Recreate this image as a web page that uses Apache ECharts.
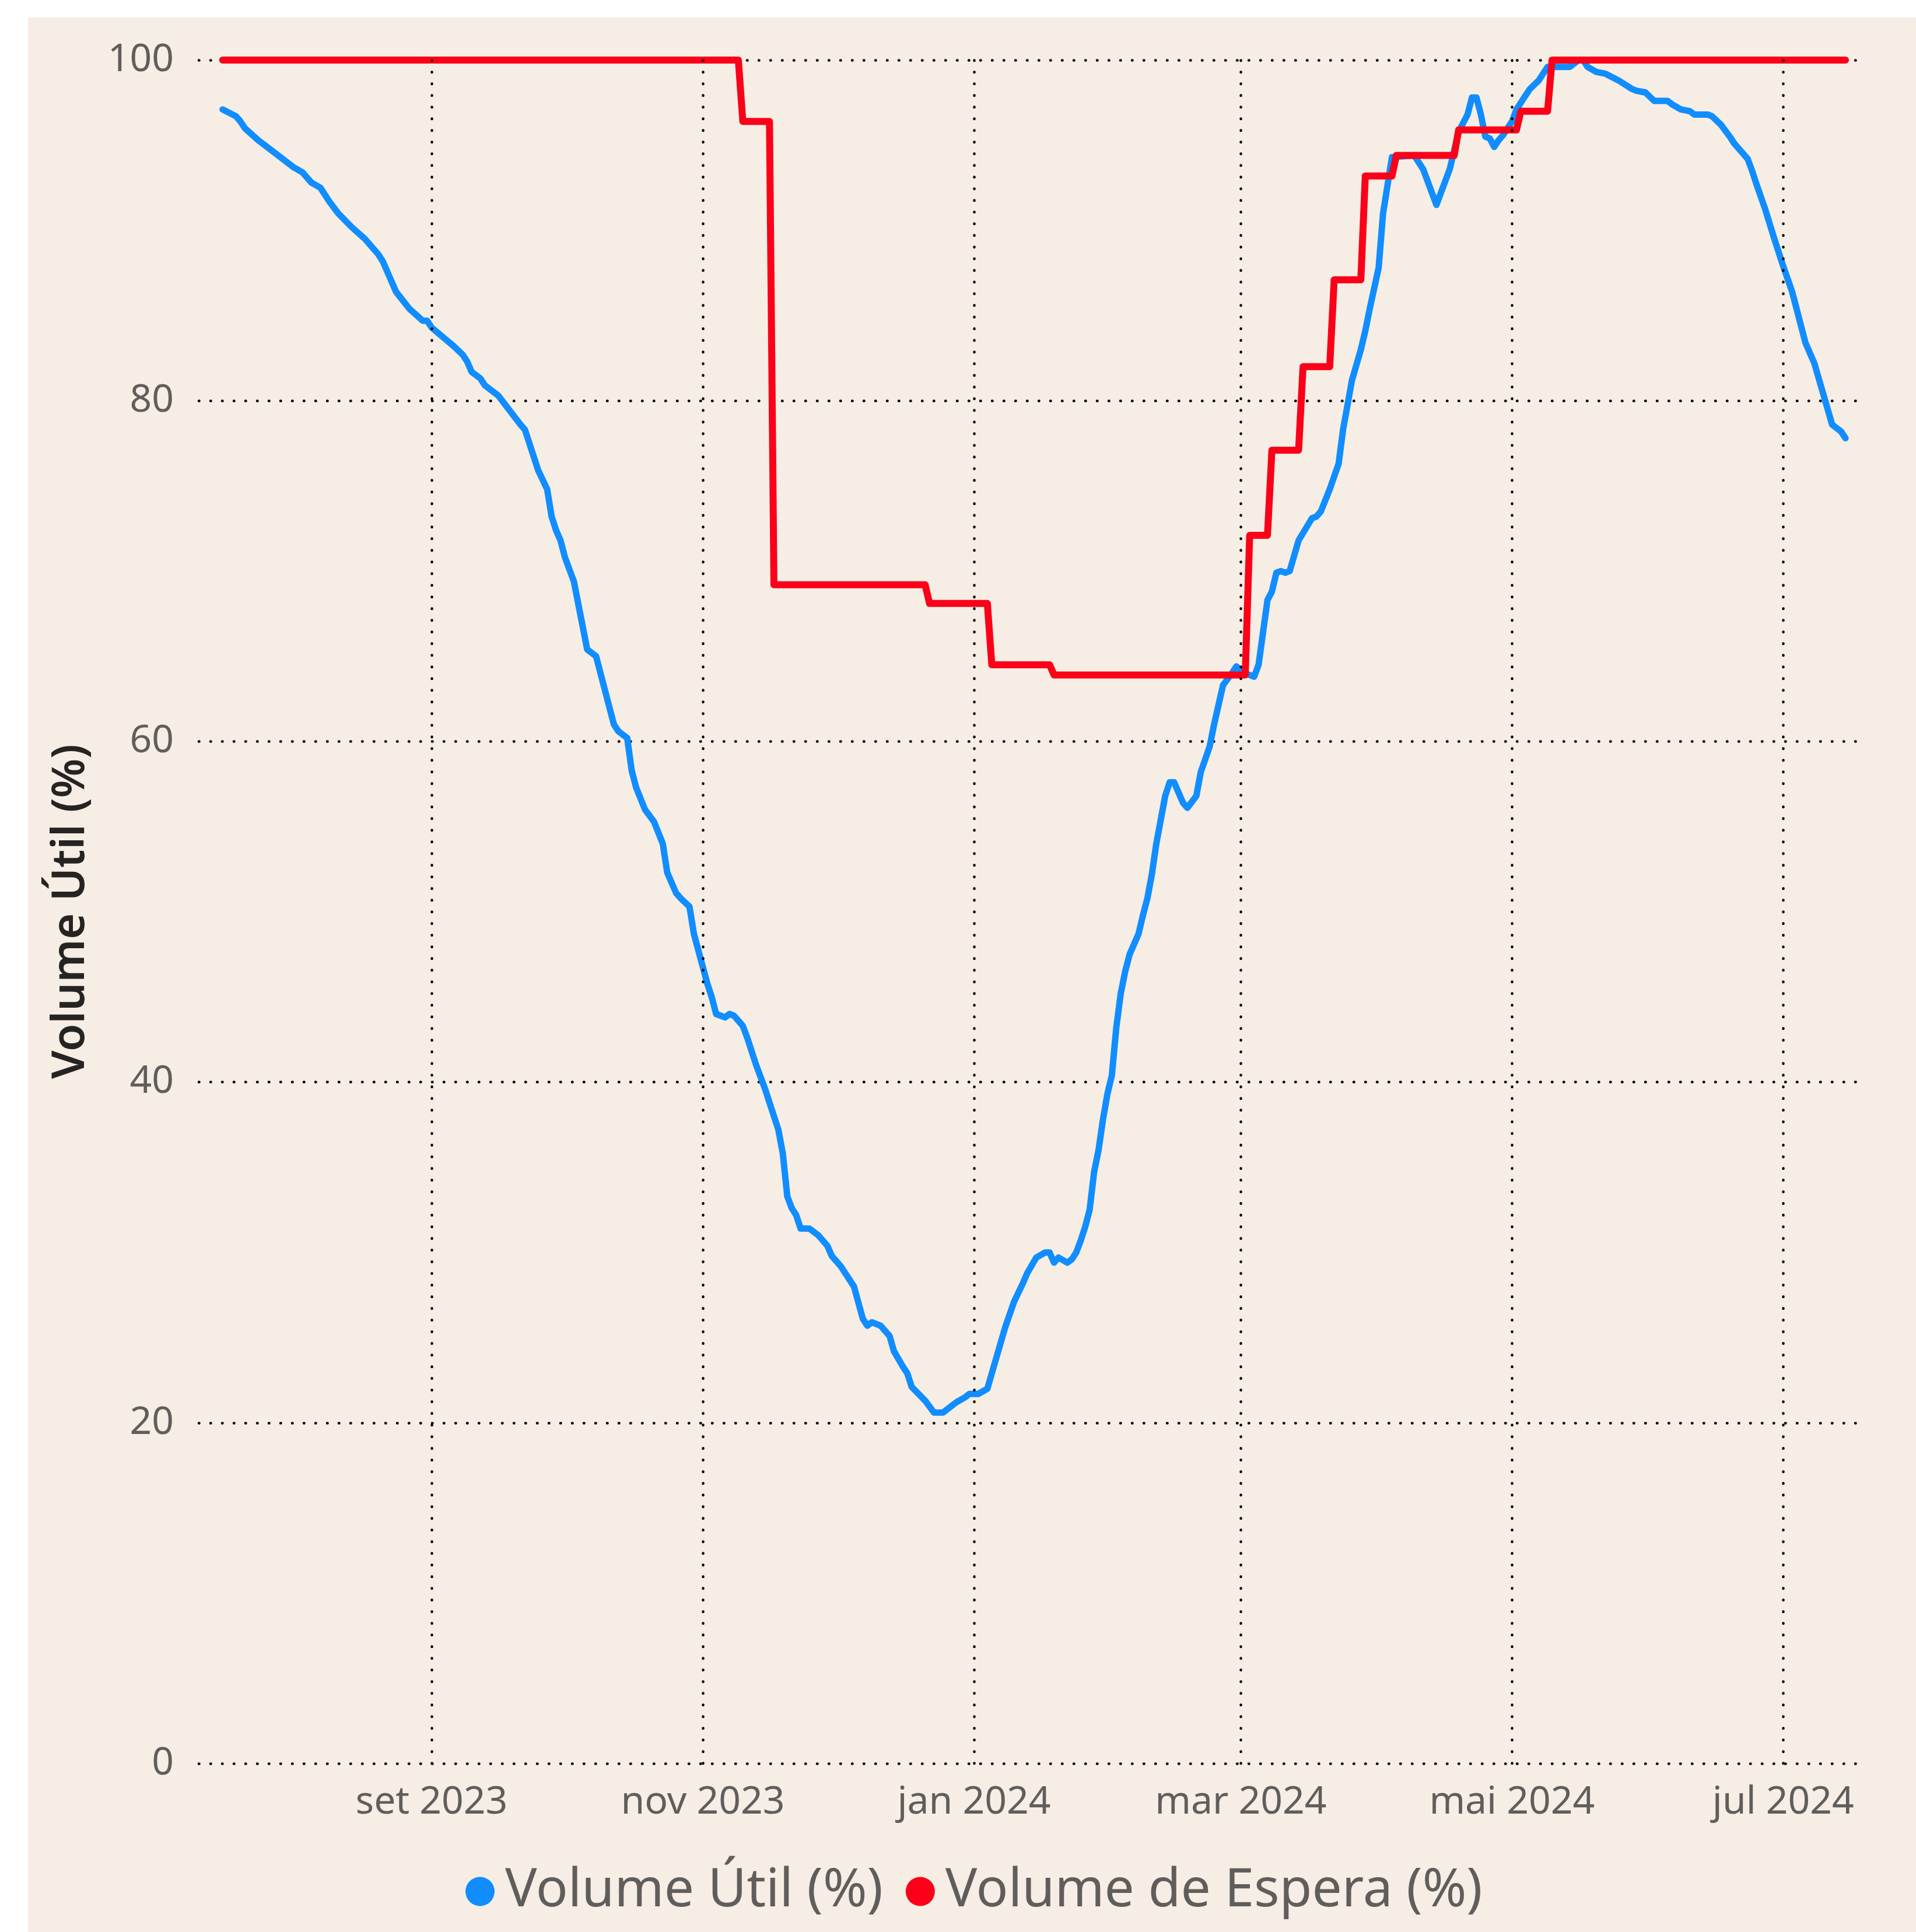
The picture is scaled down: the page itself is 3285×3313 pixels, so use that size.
<!DOCTYPE html>
<html>
<head>
<meta charset="utf-8">
<title>Volume Útil x Volume de Espera</title>
<script src="https://cdn.jsdelivr.net/npm/echarts@6/dist/echarts.min.js"></script>
<style>
  html, body { margin: 0; padding: 0; background: #fff; }
  #panel { position: absolute; left: 48px; top: 30px; width: 3237px; height: 3283px; background: #F6EEE4; }
  #chart { position: absolute; left: 0; top: 0; width: 3285px; height: 3313px; }
</style>
</head>
<body>
<div id="panel"></div>
<div id="chart"></div>
<script>
// Volume Útil (%) - leitura aproximada do gráfico (uma linha por mês)
const utilDates = [
  '2023-07-16','2023-07-19','2023-07-20','2023-07-21','2023-07-24','2023-07-28',
  '2023-08-01','2023-08-03','2023-08-05','2023-08-07','2023-08-09','2023-08-11','2023-08-14','2023-08-17','2023-08-20','2023-08-21','2023-08-24','2023-08-27','2023-08-30','2023-08-31',
  '2023-09-01','2023-09-06','2023-09-08','2023-09-09','2023-09-10','2023-09-12','2023-09-13','2023-09-16','2023-09-21','2023-09-22','2023-09-25','2023-09-27','2023-09-28','2023-09-29','2023-09-30',
  '2023-10-01','2023-10-03','2023-10-06','2023-10-08','2023-10-09','2023-10-12','2023-10-13','2023-10-15','2023-10-16','2023-10-17','2023-10-19','2023-10-21','2023-10-23','2023-10-24','2023-10-26','2023-10-27','2023-10-29','2023-10-30',
  '2023-11-02','2023-11-03','2023-11-04','2023-11-06','2023-11-07','2023-11-08','2023-11-10','2023-11-11','2023-11-13','2023-11-15','2023-11-18','2023-11-19','2023-11-20','2023-11-21','2023-11-22','2023-11-23','2023-11-25','2023-11-27','2023-11-29','2023-11-30',
  '2023-12-02','2023-12-03','2023-12-05','2023-12-07','2023-12-08','2023-12-09','2023-12-11','2023-12-13','2023-12-14','2023-12-16','2023-12-17','2023-12-18','2023-12-21','2023-12-23','2023-12-25','2023-12-27','2023-12-28','2023-12-30','2023-12-31',
  '2024-01-02','2024-01-04','2024-01-05','2024-01-07','2024-01-08','2024-01-10','2024-01-12','2024-01-13','2024-01-15','2024-01-17','2024-01-18','2024-01-19','2024-01-20','2024-01-22','2024-01-23','2024-01-24','2024-01-25','2024-01-26','2024-01-27','2024-01-28','2024-01-29','2024-01-30','2024-01-31',
  '2024-02-01','2024-02-02','2024-02-03','2024-02-04','2024-02-05','2024-02-07','2024-02-08','2024-02-09','2024-02-10','2024-02-11','2024-02-13','2024-02-14','2024-02-15','2024-02-17','2024-02-18','2024-02-20','2024-02-21','2024-02-23','2024-02-24','2024-02-26','2024-02-28','2024-02-29',
  '2024-03-02','2024-03-04','2024-03-05','2024-03-07','2024-03-08','2024-03-09','2024-03-10','2024-03-11','2024-03-12','2024-03-13','2024-03-14','2024-03-17','2024-03-18','2024-03-19','2024-03-21','2024-03-23','2024-03-24','2024-03-26','2024-03-28','2024-03-29','2024-03-30',
  '2024-04-01','2024-04-02','2024-04-04','2024-04-09','2024-04-10','2024-04-11','2024-04-14','2024-04-17','2024-04-19','2024-04-21','2024-04-22','2024-04-23','2024-04-24','2024-04-25','2024-04-26','2024-04-27','2024-04-28','2024-04-29',
  '2024-05-01','2024-05-02','2024-05-04','2024-05-05','2024-05-07','2024-05-08','2024-05-09','2024-05-14','2024-05-16','2024-05-17','2024-05-18','2024-05-20','2024-05-22','2024-05-25','2024-05-28','2024-05-29','2024-05-31',
  '2024-06-02','2024-06-05','2024-06-06','2024-06-08','2024-06-10','2024-06-11','2024-06-14','2024-06-15','2024-06-17','2024-06-19','2024-06-20','2024-06-23','2024-06-24','2024-06-25','2024-06-27','2024-06-29',
  '2024-07-01','2024-07-03','2024-07-06','2024-07-08','2024-07-10','2024-07-12','2024-07-14','2024-07-15'
]
const utilValues = [
  97.1, 96.7, 96.4, 96.0, 95.3, 94.5,
  93.7, 93.4, 92.8, 92.5, 91.7, 91.0, 90.2, 89.5, 88.6, 88.2, 86.4, 85.4, 84.7, 84.7,
  84.3, 83.2, 82.7, 82.3, 81.7, 81.3, 80.9, 80.3, 78.6, 78.3, 75.9, 74.8, 73.2, 72.4, 71.8,
  70.8, 69.4, 65.4, 65.0, 64.0, 61.0, 60.6, 60.2, 58.3, 57.3, 56.0, 55.3, 54.0, 52.3, 51.1, 50.8, 50.3, 48.7,
  45.8, 45.0, 44.0, 43.8, 44.0, 43.9, 43.3, 42.6, 41.0, 39.6, 37.2, 35.8, 33.3, 32.6, 32.2, 31.4, 31.4, 31.0, 30.4, 29.8,
  29.2, 28.8, 28.0, 26.1, 25.7, 25.9, 25.7, 25.1, 24.2, 23.3, 22.9, 22.1, 21.3, 20.6, 20.6, 21.0, 21.2, 21.5, 21.7,
  21.7, 22.0, 22.9, 24.7, 25.6, 27.1, 28.2, 28.8, 29.7, 30.0, 30.0, 29.4, 29.7, 29.4, 29.6, 30.0, 30.7, 31.5, 32.5, 34.7, 36.0, 37.8, 39.3,
  40.4, 43.2, 45.2, 46.5, 47.5, 48.7, 49.8, 50.8, 52.2, 54.0, 56.8, 57.6, 57.6, 56.4, 56.1, 56.8, 58.2, 59.7, 61.0, 63.3, 64.0, 64.4,
  64.0, 63.8, 64.5, 68.3, 68.8, 69.9, 70.0, 69.9, 70.0, 70.9, 71.8, 73.1, 73.2, 73.5, 74.8, 76.3, 78.3, 81.2, 83.0, 84.1, 85.4,
  87.8, 91.0, 94.3, 94.4, 94.0, 93.6, 91.5, 93.6, 95.8, 96.8, 97.8, 97.8, 96.8, 95.5, 95.4, 94.9, 95.3, 95.6,
  96.4, 97.1, 97.9, 98.3, 98.8, 99.2, 99.6, 99.6, 100, 100, 99.6, 99.3, 99.2, 98.8, 98.3, 98.2, 98.1,
  97.6, 97.6, 97.4, 97.1, 97.0, 96.8, 96.8, 96.7, 96.2, 95.5, 95.1, 94.2, 93.5, 92.7, 91.2, 89.5,
  87.9, 86.4, 83.4, 82.2, 80.4, 78.6, 78.2, 77.8
]

// Volume de Espera (%) - degraus
const esperaDates = [
  '2023-07-16','2023-11-09','2023-11-10','2023-11-16','2023-11-17','2023-12-21','2023-12-22','2024-01-04',
  '2024-01-05','2024-01-18','2024-01-19','2024-03-02','2024-03-03','2024-03-07','2024-03-08','2024-03-14',
  '2024-03-15','2024-03-21','2024-03-22','2024-03-28','2024-03-29','2024-04-04','2024-04-05','2024-04-18',
  '2024-04-19','2024-05-02','2024-05-03','2024-05-09','2024-05-10','2024-07-15'
]
const esperaValues = [
  100, 100, 96.4, 96.4, 69.2, 69.2, 68.1, 68.1,
  64.5, 64.5, 63.9, 63.9, 72.1, 72.1, 77.1, 77.1,
  82.0, 82.0, 87.1, 87.1, 93.2, 93.2, 94.4, 94.4,
  95.9, 95.9, 97.0, 97.0, 100, 100
]

// eixo x
const tickDates = ['2023-09-01', '2023-11-01', '2024-01-01', '2024-03-01', '2024-05-01', '2024-07-01']
const tickLabels = ['set 2023', 'nov 2023', 'jan 2024', 'mar 2024', 'mai 2024', 'jul 2024']

function toTime(s) {
  const p = s.split(/[- :]/).map(Number)
  return new Date(p[0], p[1] - 1, p[2], p[3] || 0, p[4] || 0).getTime()
}

const tickTimes = tickDates.map(toTime)
const labelByTime = {}
tickTimes.forEach((t, i) => { labelByTime[t] = tickLabels[i] })

const FONT = '"Noto Sans", sans-serif'
// grade pontilhada (pontos redondos a cada 20px)
const gridDots = { color: '#000', width: 4.5, type: [0.5, 19.5], cap: 'round' }

const chart = echarts.init(document.getElementById('chart'))

chart.setOption({
  backgroundColor: 'transparent',
  animation: false,
  textStyle: { fontFamily: FONT },
  grid: { left: 341, right: 99, top: 103, bottom: 289 },
  legend: {
    data: ['Volume Útil (%)', 'Volume de Espera (%)'],
    icon: 'circle',
    itemWidth: 50,
    itemHeight: 50,
    itemGap: 39,
    left: 793,
    top: 3193,
    textStyle: { fontFamily: FONT, fontSize: 91, color: '#605E5C', padding: [0, 0, 0, 13] }
  },
  xAxis: {
    type: 'value',
    min: toTime('2023-07-10 16:00'),
    max: toTime('2024-07-17 21:00'),
    axisLine: { show: false },
    axisTick: { show: false },
    splitLine: { show: false },
    axisLabel: {
      customValues: tickTimes,
      formatter: (v) => labelByTime[v] || '',
      fontFamily: FONT,
      fontSize: 66,
      color: '#605E5C',
      margin: 34
    }
  },
  yAxis: {
    type: 'value',
    min: 0,
    max: 100,
    interval: 20,
    axisLine: { show: false },
    axisTick: { show: false },
    axisLabel: { fontFamily: FONT, fontSize: 66, color: '#605E5C', margin: 43 },
    splitLine: { show: true, lineStyle: gridDots }
  },
  graphic: [{
    type: 'text',
    x: 122,
    y: 1563,
    rotation: Math.PI / 2,
    style: {
      text: 'Volume Útil (%)',
      fontFamily: FONT,
      fontWeight: 600,
      fontSize: 77,
      fill: '#252423',
      align: 'center',
      verticalAlign: 'middle'
    }
  }],
  series: [
    {
      // linhas verticais pontilhadas nos meses
      name: 'grade',
      type: 'line',
      data: [],
      silent: true,
      z: 1,
      markLine: {
        silent: true,
        symbol: 'none',
        label: { show: false },
        lineStyle: gridDots,
        data: tickTimes.map(t => ({ xAxis: t }))
      }
    },
    {
      name: 'Volume Útil (%)',
      type: 'line',
      showSymbol: false,
      symbol: 'none',
      z: 3,
      color: '#118DFF',
      lineStyle: { color: '#118DFF', width: 11, cap: 'round', join: 'round' },
      data: utilDates.map((d, i) => [toTime(d), utilValues[i]])
    },
    {
      name: 'Volume de Espera (%)',
      type: 'line',
      showSymbol: false,
      symbol: 'none',
      z: 4,
      color: '#FB0018',
      lineStyle: { color: '#FB0018', width: 12, cap: 'round', join: 'round' },
      data: esperaDates.map((d, i) => [toTime(d), esperaValues[i]])
    }
  ]
})
</script>
</body>
</html>
